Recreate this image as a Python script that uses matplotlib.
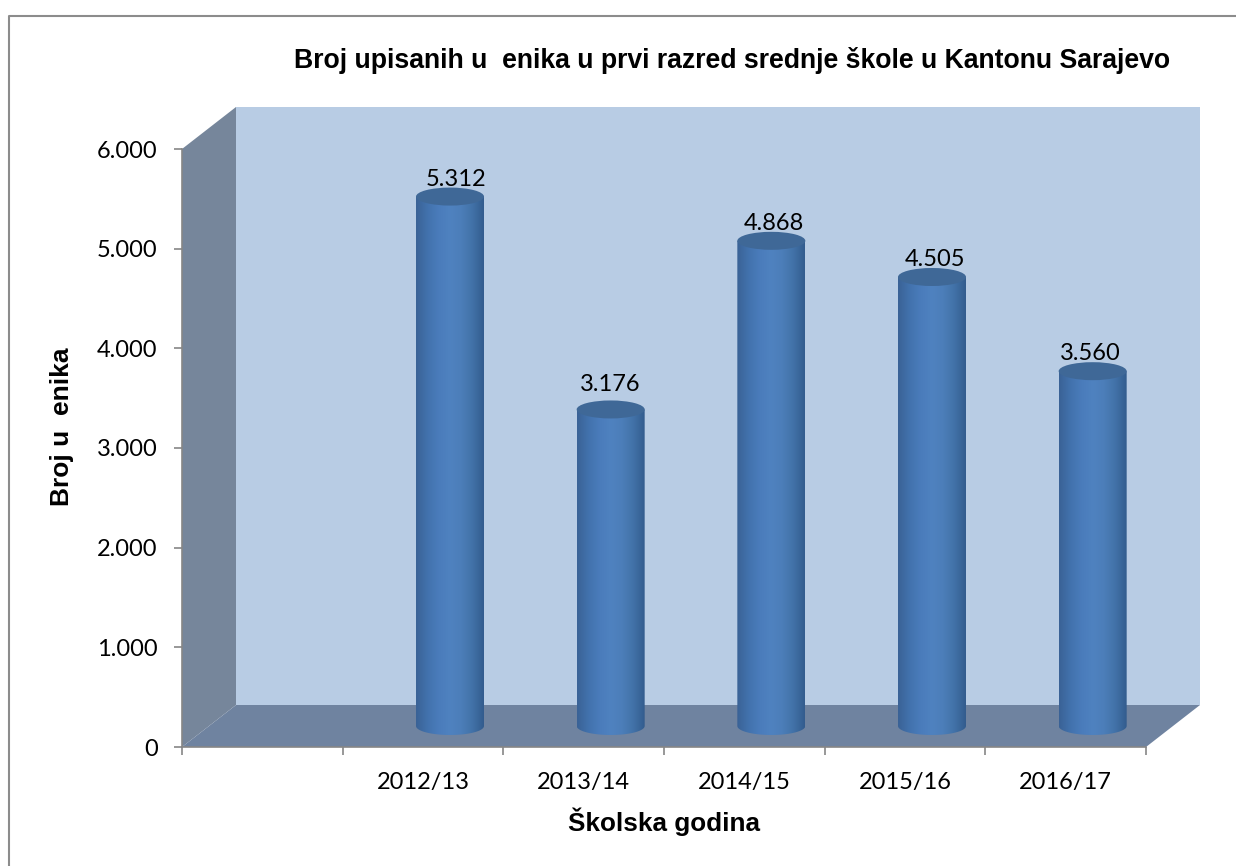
import numpy as np
import matplotlib
matplotlib.use("Agg")
import matplotlib.pyplot as plt
from matplotlib.lines import Line2D
from matplotlib.patches import Polygon, Ellipse, PathPatch
from matplotlib.path import Path
from matplotlib.transforms import Affine2D, IdentityTransform
from matplotlib.colors import LinearSegmentedColormap

categories = ["", "2012/13", "2013/14", "2014/15", "2015/16", "2016/17"]
values = [None, 5312, 3176, 4868, 4505, 3560]
labels = ["", "5.312", "3.176", "4.868", "4.505", "3.560"]
y_ticks = [0, 1000, 2000, 3000, 4000, 5000, 6000]
y_tick_labels = ["0", "1.000", "2.000", "3.000", "4.000", "5.000", "6.000"]
title = "Broj upisanih u  enika u prvi razred srednje škole u Kantonu Sarajevo"
xlabel = "Školska godina"
ylabel = "Broj u  enika"

# nudges of the value labels, px
label_dx = [0, 6, 0, 3, 3, -2]
label_dy = [0, 17, 25, 17.5, 17.5, 17.5]

W, H = 1236, 866
fig = plt.figure(figsize=(W / 100, H / 100), dpi=100, facecolor="white")
L, R, T, B = 182, 1146, 149, 747
ax = fig.add_axes([L / W, 1 - B / H, (R - L) / W, (B - T) / H])
ax.set_xlim(0, 6)
ax.set_ylim(0, 6000)
ax.patch.set_visible(False)
DX, DY = 54, 42
BW = 34   # half width of cylinder, px
EH = 9    # half height of ellipse, px
grey = "#868686"
idt = IdentityTransform()

# outer frame: only the left and top edges are visible
fig.add_artist(Line2D([9, 9, W], [0, H - 15.5, H - 15.5], transform=idt,
                      color="#8c8c8c", lw=1.5))

def px(x, v, t=0.0):
    p = ax.transData.transform((x, v))
    return (p[0] + DX * t, p[1] + DY * t)

# back wall
ax.add_patch(Polygon([px(0, 0, 1), px(6, 0, 1), px(6, 6000, 1), px(0, 6000, 1)],
                     transform=idt, fc="#b8cce4", ec="none", zorder=1, clip_on=False))
# floor
ax.add_patch(Polygon([px(0, 0), px(6, 0), px(6, 0, 1), px(0, 0, 1)],
                     transform=idt, fc="#6f83a0", ec="none", zorder=1.2, clip_on=False))
# left wall
ax.add_patch(Polygon([px(0, 0), px(0, 0, 1), px(0, 6000, 1), px(0, 6000)],
                     transform=idt, fc="#76869b", ec="none", zorder=1.1, clip_on=False))

cmap = LinearSegmentedColormap.from_list(
    "cyl", ["#3a6296", "#4272ad", "#4a7cbb", "#4f82c0", "#4c7eb9", "#4272a8", "#335c8e"])
grad = np.linspace(0, 1, 128)[None, :]
mid = Affine2D().translate(DX / 2, DY / 2)

for i, (val, lab) in enumerate(zip(values, labels)):
    if val is None:
        continue
    xc = i + 0.5
    cx, top = px(xc, val, 0.5)
    _, bot = px(xc, 0, 0.5)
    # silhouette from the bar itself, moved to mid-depth of the floor
    ax.bar(xc, val, width=2 * BW / ((R - L) / 6), color="#4a7dbd", zorder=3,
           transform=mid + ax.transData, clip_on=False)
    verts = [(cx - BW, top), (cx - BW, bot)]
    theta = np.linspace(np.pi, 2 * np.pi, 40)
    verts += [(cx + BW * np.cos(t), bot + EH * np.sin(t)) for t in theta]
    verts += [(cx + BW, top), (cx - BW, top)]
    clip = Path(verts)
    im = ax.imshow(grad, cmap=cmap, aspect="auto", zorder=3.2,
                   extent=[cx - BW, cx + BW, bot - EH, top], interpolation="bilinear")
    im.set_transform(idt)
    im.set_clip_path(PathPatch(clip, transform=idt))
    ax.add_patch(Ellipse((cx, top), 2 * BW, 2 * EH, transform=idt, fc="#3f6897",
                         ec="none", zorder=3.5, clip_on=False))
    ax.text(cx + label_dx[i], top + label_dy[i], lab, transform=idt, ha="center",
            va="center", fontsize=17, family="Lato", color="black", zorder=5)

ax.set_xlim(0, 6)
ax.set_ylim(0, 6000)

for s in ("top", "right"):
    ax.spines[s].set_visible(False)
for s in ("left", "bottom"):
    ax.spines[s].set_color(grey)
    ax.spines[s].set_linewidth(1.2)
    ax.spines[s].set_zorder(4)

ax.set_yticks(y_ticks)
ax.set_yticklabels(y_tick_labels, fontsize=17, family="Lato")
ax.set_xticks(range(7))
ax.set_xticklabels([""] * 7)
ax.set_xticks(np.arange(6) + 0.5, minor=True)
ax.set_xticklabels(categories, minor=True, fontsize=17, family="Lato")
ax.tick_params(axis="both", which="major", length=5.5, width=1.2, color=grey, pad=12)
ax.tick_params(axis="x", which="minor", length=0, pad=18)

fig.text(732 / W, 1 - 60 / H, title, ha="center", va="center", fontsize=19.2,
         fontweight="bold", family="Liberation Sans")
fig.text(664 / W, 1 - 822 / H, xlabel, ha="center", va="center", fontsize=18.8,
         fontweight="bold", family="Liberation Sans")
fig.text(62 / W, 1 - 426.5 / H, ylabel, ha="center", va="center", rotation=90, fontsize=19,
         fontweight="bold", family="Liberation Sans")

fig.savefig("out.png", dpi=100)
